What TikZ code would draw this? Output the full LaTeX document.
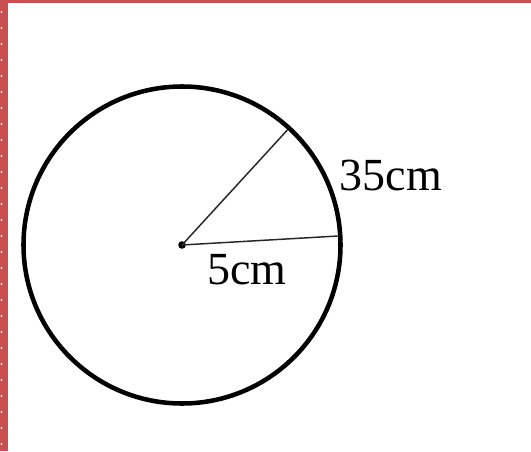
\documentclass[tikz,border=0pt]{standalone}
\usepackage{fontspec}
\setmainfont{Liberation Serif}
\usetikzlibrary{positioning,calc}
\definecolor{edgered}{HTML}{C9504F}

\begin{document}
\begin{tikzpicture}[x=0.75pt, y=0.75pt,
  rim/.style={line width=3.4pt},
  radius line/.style={line width=1.1pt, black!85},
  lbl/.style={font=\fontsize{34.5}{40}\selectfont, inner sep=0pt},
]
\useasboundingbox (0,0) rectangle (531,451);

% ---- page edge ----
\fill[edgered] (0,448) rectangle (531,451);
\fill[edgered] (0,0) rectangle (8,451);
\foreach \y in {439,423,...,7}
  \fill[white] (1.6,\y) circle (1.1);

% ---- circle ----
\coordinate (O) at (182,206);
\draw[rim] (O) circle (158.5);
\fill (O) circle (3.8);

\coordinate (A) at ($(O)+(47.5:156)$);
\coordinate (B) at ($(O)+(3.3:156)$);
\draw[radius line] (O) -- (A);
\draw[radius line] (O) -- (B);

% ---- labels ----
\node[lbl] (arc) at (391,276) {35cm};
\node[lbl] (rad) at (247,181) {5cm};

\end{tikzpicture}
\end{document}
